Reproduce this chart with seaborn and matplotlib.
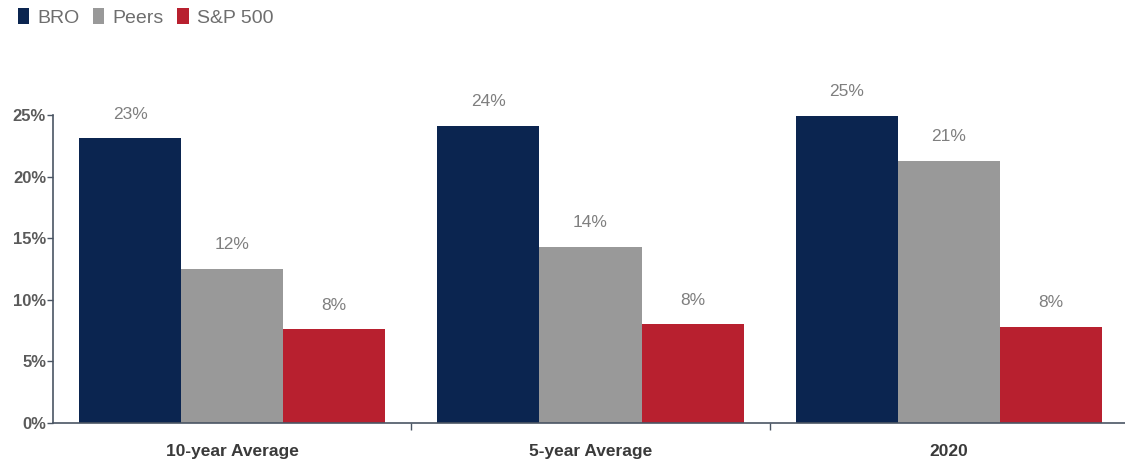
import numpy as np
import pandas as pd
import matplotlib.pyplot as plt
import seaborn as sns
from matplotlib.patches import Patch

# values (percent)
periods = ["10-year Average", "5-year Average", "2020"]
series = ["BRO", "Peers", "S&P 500"]
bro = [23.1, 24.1, 24.9]
peers = [12.5, 14.3, 21.3]
sp500 = [7.6, 8.0, 7.8]
bro_labels = ["23%", "24%", "25%"]
peers_labels = ["12%", "14%", "21%"]
sp500_labels = ["8%", "8%", "8%"]
yticks = [0, 5, 10, 15, 20, 25]

colors = ["#0b2550", "#999999", "#b8202f"]

df = pd.DataFrame({
    "period": periods * 3,
    "series": [s for s in series for _ in periods],
    "value": bro + peers + sp500,
})

sns.set_style("white")
plt.rcParams["font.family"] = ["Liberation Sans", "DejaVu Sans"]

fig = plt.figure(figsize=(11.25, 4.61), dpi=100)
ax = fig.add_axes([53 / 1125, 38 / 461, (1128 - 53) / 1125, 308 / 461])

sns.barplot(data=df, x="period", y="value", hue="series", order=periods,
            hue_order=series, palette=colors, width=0.855, gap=0,
            saturation=1, errorbar=None, linewidth=0, ax=ax, legend=False)

# value labels above the bars
for cont, labs in zip(ax.containers, [bro_labels, peers_labels, sp500_labels]):
    for bar, lab in zip(cont, labs):
        ax.annotate(lab, (bar.get_x() + bar.get_width() / 2, bar.get_height()),
                    xytext=(0, 17.5), textcoords="offset points",
                    ha="center", va="center", fontsize=12.5, color="#7f7f7f",
                    annotation_clip=False)

ax.set_xlim(-0.5, 2.5)
ax.set_ylim(0, 25)
ax.set_yticks(yticks)
ax.set_yticklabels([f"{t}%" for t in yticks], fontsize=12, fontweight="bold",
                   color="#5a5a5a")
ax.set_xticks(range(len(periods)))
ax.set_xticklabels(periods, fontsize=12.5, fontweight="bold", color="#3a3a3a")
ax.set_xticks([0.5, 1.5], minor=True)
ax.tick_params(axis="x", which="major", length=0, pad=15)
ax.tick_params(axis="x", which="minor", length=5, width=1, color="#4a5563",
               direction="out", bottom=True)
ax.tick_params(axis="y", length=4, width=1, color="#4a5563", direction="out",
               left=True, pad=1)
ax.set_xlabel("")
ax.set_ylabel("")

sns.despine(ax=ax)
for side in ["left", "bottom"]:
    ax.spines[side].set_color("#4a5563")
    ax.spines[side].set_linewidth(1.2)

handles = [Patch(facecolor=c, edgecolor="none") for c in colors]
fig.legend(handles, series, loc="upper left", bbox_to_anchor=(0.0, 1.02),
           ncol=3, frameon=False, fontsize=14, handlelength=0.6,
           handleheight=0.85, handletextpad=0.4, columnspacing=0.7,
           labelcolor="#6e6e6e")

fig.savefig("out.png", dpi=100)
